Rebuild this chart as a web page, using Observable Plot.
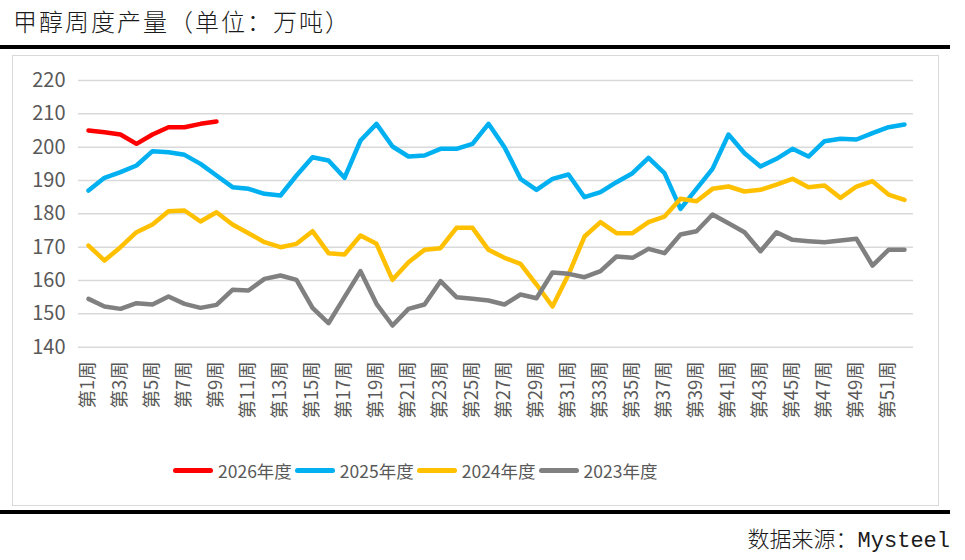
<!DOCTYPE html>
<html><head><meta charset="utf-8">
<script src="https://cdn.jsdelivr.net/npm/d3@7"></script>
<script src="https://cdn.jsdelivr.net/npm/@observablehq/plot@0.6"></script>
<style>
body{margin:0;width:965px;height:560px;position:relative;background:#fff;overflow:hidden;font-family:"Noto Sans CJK SC",sans-serif}
#title{position:absolute;left:13px;top:4px;font-size:24px;font-weight:300;letter-spacing:2px;line-height:34px;color:#1a1a1a;white-space:nowrap}
.rule{position:absolute;left:0;width:950px;background:#000}
#box{position:absolute;left:12px;top:55px;width:927px;height:451px;border:1.5px solid #d9d9d9;box-sizing:border-box}
#chart{position:absolute;left:0;top:55px}
#legend{position:absolute;left:173px;top:458px;height:24px;display:flex;align-items:center;font-size:17.5px;color:#595959;white-space:nowrap}
#legend .sw{display:inline-block;width:40px;height:5px;border-radius:3px;margin-right:5px}
#legend .lb{margin-right:3px}
#source{position:absolute;right:15px;top:526px;font-size:22px;font-weight:300;line-height:32px;color:#1a1a1a;font-family:"Liberation Mono","Noto Sans CJK SC",monospace;white-space:nowrap}
</style></head>
<body>
<div id="title">甲醇周度产量（单位：万吨）</div>
<div class="rule" style="top:45px;height:4px"></div>
<div id="box"></div>
<div id="chart"></div>
<div id="legend"></div>
<div class="rule" style="top:510px;height:4px"></div>
<div id="source">数据来源：Mysteel</div>
<script>
const weeks = ["第1周","第2周","第3周","第4周","第5周","第6周","第7周","第8周","第9周","第10周",
"第11周","第12周","第13周","第14周","第15周","第16周","第17周","第18周","第19周","第20周",
"第21周","第22周","第23周","第24周","第25周","第26周","第27周","第28周","第29周","第30周",
"第31周","第32周","第33周","第34周","第35周","第36周","第37周","第38周","第39周","第40周",
"第41周","第42周","第43周","第44周","第45周","第46周","第47周","第48周","第49周","第50周",
"第51周","第52周"];
const weekTicks = ["第1周","第3周","第5周","第7周","第9周","第11周","第13周","第15周","第17周","第19周",
"第21周","第23周","第25周","第27周","第29周","第31周","第33周","第35周","第37周","第39周",
"第41周","第43周","第45周","第47周","第49周","第51周"];
const yTicks = [140,150,160,170,180,190,200,210,220];

const seriesNames = ["2026年度","2025年度","2024年度","2023年度"];
const seriesColors = ["#FF0000","#00B0F0","#FFC000","#808080"];

const v2026 = [205,204.5,203.8,201,203.8,206,206,207,207.7];
const v2025 = [187,190.8,192.5,194.5,198.8,198.5,197.7,195,191.5,188,
187.5,186,185.5,191.5,197,196,190.8,202,207,200.2,
197.2,197.5,199.5,199.5,201,207,200,190.5,187.2,190.5,
191.8,185,186.5,189.5,192.2,196.8,192.2,181.5,187.5,193.5,
203.8,198.2,194.2,196.5,199.5,197.2,201.8,202.5,202.3,204.2,
206,206.8];
const v2024 = [170.5,166,170,174.5,176.8,180.8,181,177.7,180.5,176.8,
174.2,171.5,170,171,174.8,168.2,167.8,173.5,171,160.2,
165.5,169.2,169.7,175.8,175.8,169.2,166.8,165,158.8,152.2,
161.8,173.2,177.5,174.2,174.2,177.5,179.2,184.5,183.8,187.5,
188.2,186.7,187.2,188.8,190.5,188,188.5,184.8,188.2,189.8,
185.8,184.2];
const v2023 = [154.5,152.2,151.5,153.2,152.8,155.2,153,151.8,152.7,157.2,
157,160.5,161.5,160.2,151.8,147.2,155,162.8,153,146.5,
151.5,152.8,159.8,155,154.5,154,152.8,155.8,154.7,162.4,
162,161,162.8,167.2,166.8,169.5,168.2,173.8,174.8,179.8,
177.2,174.5,168.8,174.5,172.2,171.8,171.5,172,172.5,164.5,
169.2,169.2];

const allValues = [v2026, v2025, v2024, v2023];
const data = [];
allValues.forEach((vals, s) => vals.forEach((v, i) => data.push({week: weeks[i], value: v, series: seriesNames[s]})));

const W = 965, H = 395;
const chart = Plot.plot({
  width: W, height: H,
  marginLeft: 78, marginRight: 52, marginTop: 25, marginBottom: 103.3,
  style: {background: "transparent", overflow: "visible", fontFamily: "'Noto Sans CJK SC', sans-serif"},
  x: {type: "point", domain: weeks, padding: 0.5},
  y: {domain: [140, 220]},
  color: {domain: seriesNames, range: seriesColors},
  marks: [
    Plot.gridY(yTicks, {stroke: "#d9d9d9", strokeOpacity: 1, strokeWidth: 1.5}),
    Plot.axisY(yTicks, {tickSize: 0, tickPadding: 13, fontSize: 20, fill: "#595959", label: null}),
    Plot.axisX(weekTicks, {tickSize: 0, tickPadding: 14, tickRotate: -90, fontSize: 18.5, fill: "#595959", label: null}),
    Plot.line(data, {x: "week", y: "value", z: "series", stroke: "series", strokeWidth: 4.5, strokeLinejoin: "round", strokeLinecap: "round"})
  ]
});
document.getElementById("chart").appendChild(chart);

const legend = document.getElementById("legend");
seriesNames.forEach((n, i) => {
  const sw = document.createElement("span"); sw.className = "sw"; sw.style.background = seriesColors[i];
  const lb = document.createElement("span"); lb.className = "lb"; lb.textContent = n;
  legend.appendChild(sw); legend.appendChild(lb);
});
</script>
</body></html>
